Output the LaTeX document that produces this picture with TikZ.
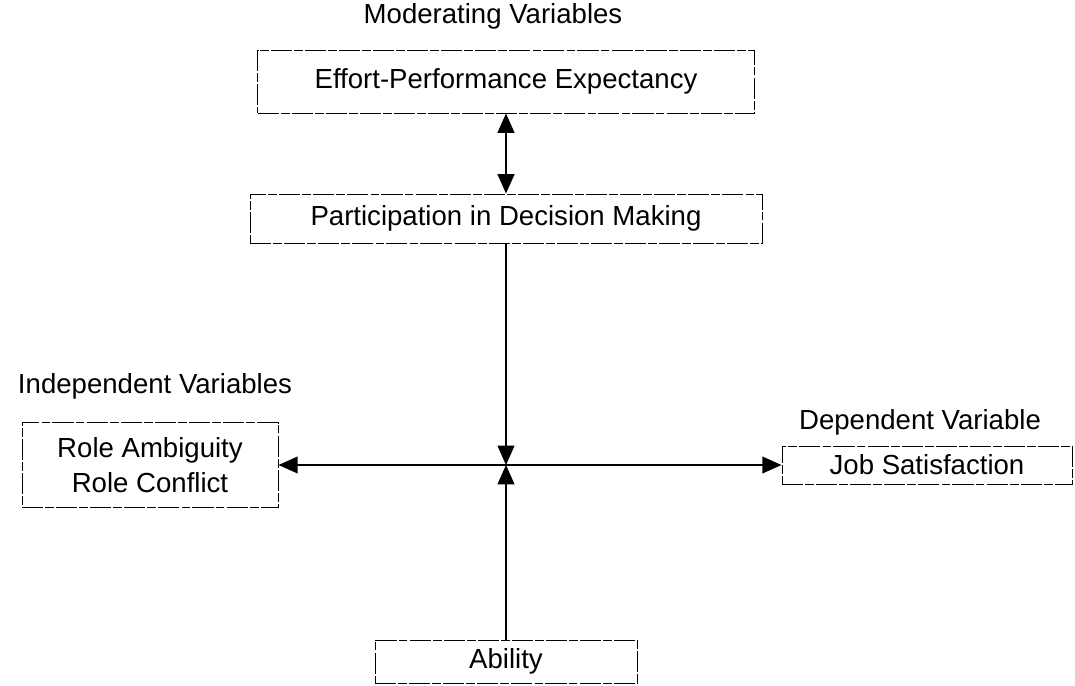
\documentclass[tikz,border=0pt]{standalone}
\usepackage{fontspec}
\setmainfont{Liberation Sans}
\usepackage{tikz}
\usetikzlibrary{arrows.meta,calc,positioning}

\begin{document}
\begin{tikzpicture}[x=0.02cm,y=-0.02cm,
    >={Triangle[length=11pt,width=9.5pt]},
    varbox/.style={draw,line width=0.5pt,dash pattern=on 12pt off 1.2pt on 5pt off 1.2pt,
      inner sep=0pt,align=center,font=\fontsize{15.7}{20}\selectfont},
    vartitle/.style={font=\fontsize{15.7}{20}\selectfont},
    link/.style={line width=1.1pt}]
  \useasboundingbox (0,0) rectangle (1075,686);
  % Moderatoren oben
  \node[vartitle] (modt) at (493,16) {Moderating Variables};
  \node[varbox,minimum width=9.94cm,minimum height=1.26cm] (epe) at (506,81.5) {Effort-Performance Expectancy};
  \node[varbox,minimum width=10.24cm,minimum height=0.98cm] (pdm) at (506,218.5) {Participation in Decision Making};
  % unabhaengige Variablen links
  \node[vartitle] (indt) at (155,386) {Independent Variables};
  \node[varbox,minimum width=5.12cm,minimum height=1.7cm] (rac) at (150,465) {Role Ambiguity\\Role Conflict};
  % abhaengige Variable rechts
  \node[vartitle] (dept) at (920,422) {Dependent Variable};
  \node[varbox,minimum width=5.8cm,minimum height=0.76cm] (js) at (927,465) {Job Satisfaction};
  % Ability unten
  \node[varbox,minimum width=5.24cm,minimum height=0.86cm] (abl) at (506,661.5) {Ability};
  % Kreuzungspunkt
  \coordinate (c) at (pdm.south |- rac.east);
  \draw[link,<->] (epe) -- (pdm);
  \draw[link,->] (pdm) -- (c);
  \draw[link,->] (abl) -- (c);
  \draw[link,->] (c) -- (rac);
  \draw[link,->] (c) -- (js);
\end{tikzpicture}
\end{document}
